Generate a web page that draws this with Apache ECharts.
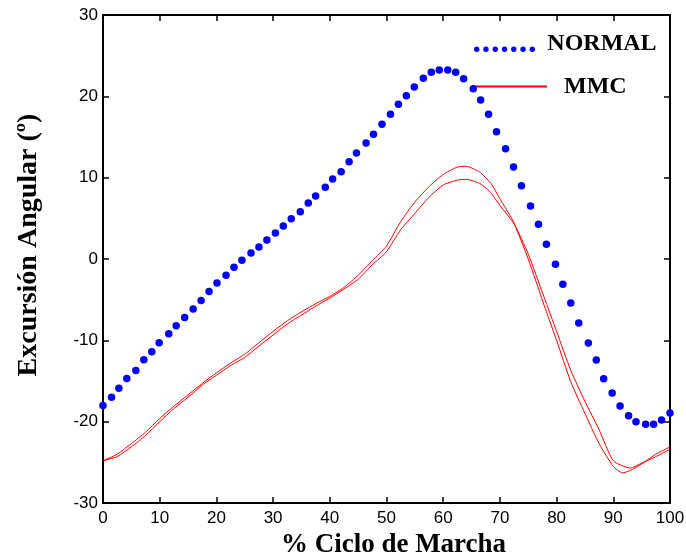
<!DOCTYPE html>
<html>
<head>
<meta charset="utf-8">
<script src="https://cdn.jsdelivr.net/npm/echarts@6/dist/echarts.min.js"></script>
<style>
html,body{margin:0;padding:0;background:#fff;}
#chart{width:686px;height:553px;}
</style>
</head>
<body>
<div id="chart"></div>
<script>
// NORMAL curve (dotted)
const normalX = [0,1.5,2.8,4.2,5.8,7.2,8.6,9.9,11.6,12.9,
  14.4,15.9,17.3,18.7,20.1,21.7,23.1,24.5,26.1,27.5,
  28.9,30.4,31.8,33.2,34.8,36.2,37.5,39.2,40.5,42.0,
  43.4,44.7,46.4,47.7,49.2,50.7,52.1,53.5,54.9,56.5,
  57.9,59.3,60.8,62.2,63.6,65.3,66.6,68.0,69.4,71.0,
  72.4,73.8,75.4,76.8,78.2,79.8,81.1,82.5,83.9,85.6,
  87.0,88.3,89.8,91.2,92.7,94.0,95.7,97.1,98.5,100];
const normalY = [-18.0,-17.0,-15.9,-14.7,-13.7,-12.4,-11.4,-10.3,-9.2,-8.2,
  -7.2,-6.15,-5.1,-4.0,-2.95,-2.0,-1.0,-0.15,0.74,1.47,
  2.33,3.2,4.06,4.96,5.82,6.88,7.74,8.81,9.84,10.74,
  11.97,13.03,14.26,15.33,16.56,17.79,19.02,20.08,21.15,22.22,
  22.95,23.24,23.24,22.95,22.17,20.94,19.55,17.79,15.65,13.56,
  11.31,9.01,6.52,4.26,1.81,-0.65,-3.11,-5.41,-7.87,-10.33,
  -12.42,-14.72,-16.48,-18.08,-19.27,-20.0,-20.33,-20.33,-19.8,-18.94];

// MMC curves (two thin red lines)
const mmcAX = [0,2.5,5,7.5,10,12.5,15,17.5,20,22.5,25,27.5,30,32.5,35,37.5,40,42.5,45,47.5,50,52.5,55,57.5,60,62.5,
  64,66.4,68.4,70,72.3,75,77.8,80,82.5,85,87.5,90,91.6,93,95,97.5,100];
const mmcAY = [-24.8,-24.0,-22.7,-21.3,-19.6,-18.1,-16.7,-15.3,-14.0,-12.8,-11.7,-10.3,-8.9,-7.6,-6.5,-5.5,-4.6,-3.5,-2.0,-0.2,1.6,4.6,7.0,8.9,10.4,11.3,
  11.4,10.7,9.3,7.4,4.7,0.0,-5.7,-10.0,-15.1,-19.0,-22.7,-25.5,-26.3,-26.0,-25.2,-24.0,-23.1];
const mmcBX = [0,2.5,5,7.5,10,12.5,15,17.5,20,22.5,25,27.5,30,32.5,35,37.5,40,42.5,45,47.5,50,52.5,55,57.5,60,62.5,
  64,66.4,68.2,70,72.6,75,77.8,80,82.5,85,87.5,90,93,95,97.5,100];
const mmcBY = [-24.8,-24.3,-23.1,-21.7,-20.0,-18.4,-17.0,-15.5,-14.3,-13.1,-12.1,-10.7,-9.35,-8.0,-6.9,-5.8,-4.8,-3.7,-2.5,-0.7,0.9,3.6,5.6,7.6,9.1,9.7,
  9.8,9.3,8.3,6.6,4.2,0.6,-4.7,-8.9,-13.7,-17.5,-21.0,-24.8,-25.7,-25.1,-24.3,-23.4];

const xTicks = {min: 0, max: 100, interval: 10};
const yTicks = {min: -30, max: 30, interval: 10};
const seriesNames = ['NORMAL', 'MMC'];
const xTitle = '% Ciclo de Marcha';
const yTitle = 'Excursión Angular (º)';

function pairs(xs, ys){ return xs.map((x, i) => [x, ys[i]]); }

const chart = echarts.init(document.getElementById('chart'), null, {renderer: 'canvas'});

const tickLabel = {color: '#000', fontSize: 17, fontFamily: 'Liberation Sans, Arial, sans-serif'};
const titleFont = {color: '#000', fontSize: 27, fontWeight: 'bold', fontFamily: 'Liberation Serif, Times New Roman, serif'};
const axisLine = {show: true, onZero: false, lineStyle: {color: '#000', width: 2}};
const axisTick = {show: true, inside: true, length: 6, lineStyle: {color: '#000', width: 1.5}};

const dotsIcon = 'path://M68.3,0 ' +
  'M0,13.3 A2.7,2.7 0 1 0 5.4,13.3 A2.7,2.7 0 1 0 0,13.3 Z ' +
  'M9.27,13.3 A2.7,2.7 0 1 0 14.67,13.3 A2.7,2.7 0 1 0 9.27,13.3 Z ' +
  'M18.54,13.3 A2.7,2.7 0 1 0 23.94,13.3 A2.7,2.7 0 1 0 18.54,13.3 Z ' +
  'M27.81,13.3 A2.7,2.7 0 1 0 33.21,13.3 A2.7,2.7 0 1 0 27.81,13.3 Z ' +
  'M37.08,13.3 A2.7,2.7 0 1 0 42.48,13.3 A2.7,2.7 0 1 0 37.08,13.3 Z ' +
  'M46.35,13.3 A2.7,2.7 0 1 0 51.75,13.3 A2.7,2.7 0 1 0 46.35,13.3 Z ' +
  'M55.62,13.3 A2.7,2.7 0 1 0 61.02,13.3 A2.7,2.7 0 1 0 55.62,13.3 Z';
const lineIcon = 'path://M87,1 M0,0 L75,0 L75,2 L0,2 Z';

const legendText = {color: '#000', fontSize: 24, lineHeight: 24, fontWeight: 'bold', fontFamily: 'Liberation Serif, Times New Roman, serif'};

chart.setOption({
  animation: false,
  backgroundColor: '#fff',
  grid: {left: 103, right: 16, top: 15, bottom: 50, containLabel: false, outerBoundsMode: 'none'},
  legend: [
    {
      left: 474, top: 32, padding: 0, selectedMode: false,
      itemWidth: 68.3, itemHeight: 16,
      data: [{name: seriesNames[0], icon: dotsIcon, itemStyle: {color: '#0000ff', borderWidth: 0, opacity: 1}}],
      textStyle: legendText
    },
    {
      left: 472, top: 74.5, padding: 0, selectedMode: false,
      itemWidth: 87, itemHeight: 2,
      data: [{name: seriesNames[1], icon: lineIcon, itemStyle: {color: '#ff0000', borderWidth: 0}}],
      textStyle: legendText
    }
  ],
  xAxis: [
    {
      type: 'value', position: 'bottom', ...xTicks,
      axisLine, axisTick,
      axisLabel: Object.assign({margin: 7}, tickLabel),
      splitLine: {show: false},
      name: xTitle, nameLocation: 'middle', nameGap: 27,
      nameTextStyle: Object.assign({}, titleFont, {padding: [0, 0, 0, 14]})
    },
    {
      type: 'value', position: 'top', ...xTicks,
      axisLine, axisTick,
      axisLabel: {show: false},
      splitLine: {show: false}
    }
  ],
  yAxis: [
    {
      type: 'value', position: 'left', ...yTicks,
      axisLine, axisTick,
      axisLabel: Object.assign({margin: 5}, tickLabel),
      splitLine: {show: false},
      name: yTitle, nameLocation: 'middle', nameGap: 60, nameRotate: 90,
      nameTextStyle: Object.assign({}, titleFont, {fontSize: 28, padding: [0, 0, 0, 28]})
    },
    {
      type: 'value', position: 'right', ...yTicks,
      axisLine, axisTick,
      axisLabel: {show: false},
      splitLine: {show: false}
    }
  ],
  series: [
    {
      name: seriesNames[0], type: 'scatter', xAxisIndex: 0, yAxisIndex: 0,
      symbol: 'circle', symbolSize: 7.5, z: 5,
      itemStyle: {color: '#0000ff', opacity: 1},
      data: pairs(normalX, normalY)
    },
    {
      name: seriesNames[1], type: 'line', xAxisIndex: 0, yAxisIndex: 0,
      symbol: 'none', smooth: 0.2, z: 4,
      lineStyle: {color: '#ff0000', width: 1},
      itemStyle: {color: '#ff0000'},
      data: pairs(mmcAX, mmcAY)
    },
    {
      name: seriesNames[1], type: 'line', xAxisIndex: 0, yAxisIndex: 0,
      symbol: 'none', smooth: 0.2, z: 4,
      lineStyle: {color: '#ff0000', width: 1},
      itemStyle: {color: '#ff0000'},
      data: pairs(mmcBX, mmcBY)
    }
  ]
});
</script>
</body>
</html>
